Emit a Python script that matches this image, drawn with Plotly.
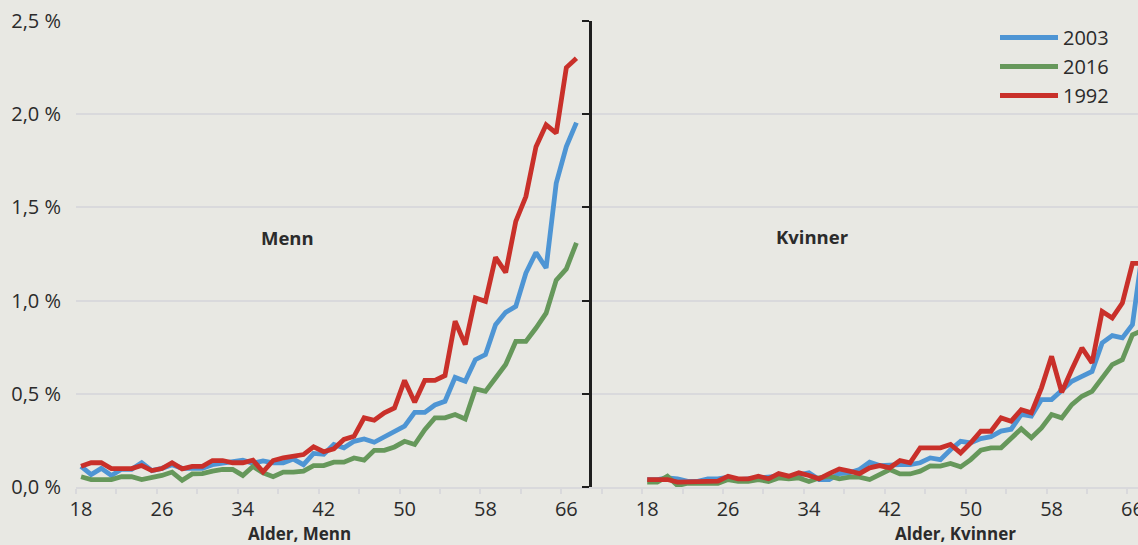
import plotly.graph_objects as go
from plotly.subplots import make_subplots

# Alder (år) for begge panelene
ages = list(range(18, 68))

# Menn: andel (%) per alder
men_2003 = [0.111, 0.067, 0.100, 0.062, 0.095, 0.095, 0.130, 0.088, 0.100, 0.120,
            0.100, 0.100, 0.100, 0.120, 0.130, 0.135, 0.144, 0.127, 0.140, 0.130,
            0.130, 0.150, 0.120, 0.180, 0.175, 0.228, 0.210, 0.245, 0.258, 0.240,
            0.270, 0.295, 0.326, 0.400, 0.400, 0.440, 0.460, 0.588, 0.567, 0.683,
            0.710, 0.871, 0.937, 0.969, 1.148, 1.258, 1.175, 1.630, 1.826, 1.955]
men_2016 = [0.055, 0.040, 0.040, 0.040, 0.055, 0.055, 0.040, 0.050, 0.062, 0.080,
            0.036, 0.070, 0.072, 0.085, 0.094, 0.094, 0.062, 0.110, 0.076, 0.055,
            0.080, 0.080, 0.085, 0.115, 0.115, 0.133, 0.133, 0.156, 0.144, 0.197,
            0.197, 0.215, 0.245, 0.228, 0.308, 0.371, 0.371, 0.389, 0.365, 0.526,
            0.513, 0.585, 0.657, 0.781, 0.781, 0.853, 0.933, 1.110, 1.170, 1.310]
men_1992 = [0.111, 0.130, 0.130, 0.099, 0.099, 0.099, 0.115, 0.088, 0.099, 0.130,
            0.097, 0.111, 0.111, 0.142, 0.142, 0.130, 0.130, 0.144, 0.081, 0.142,
            0.156, 0.165, 0.174, 0.215, 0.189, 0.205, 0.255, 0.272, 0.371, 0.358,
            0.398, 0.424, 0.572, 0.454, 0.572, 0.572, 0.598, 0.889, 0.764, 1.014,
            0.996, 1.232, 1.151, 1.425, 1.558, 1.826, 1.943, 1.898, 2.250, 2.300]

# Kvinner: andel (%) per alder
women_2003 = [0.040, 0.040, 0.049, 0.044, 0.030, 0.030, 0.044, 0.044, 0.053, 0.040,
              0.044, 0.049, 0.049, 0.058, 0.053, 0.062, 0.076, 0.040, 0.040, 0.072,
              0.076, 0.094, 0.133, 0.115, 0.120, 0.120, 0.120, 0.130, 0.156, 0.147,
              0.200, 0.245, 0.237, 0.260, 0.270, 0.300, 0.310, 0.389, 0.380, 0.469,
              0.469, 0.522, 0.567, 0.594, 0.620, 0.773, 0.812, 0.800, 0.871, 1.270]
women_2016 = [0.026, 0.026, 0.058, 0.008, 0.020, 0.020, 0.026, 0.020, 0.040, 0.030,
              0.030, 0.040, 0.030, 0.049, 0.044, 0.049, 0.030, 0.049, 0.058, 0.044,
              0.053, 0.053, 0.040, 0.067, 0.094, 0.070, 0.070, 0.085, 0.113, 0.112,
              0.126, 0.108, 0.147, 0.197, 0.210, 0.210, 0.258, 0.312, 0.264, 0.317,
              0.389, 0.371, 0.442, 0.487, 0.513, 0.585, 0.657, 0.683, 0.817, 0.840]
women_1992 = [0.040, 0.040, 0.040, 0.026, 0.026, 0.026, 0.030, 0.031, 0.058, 0.044,
              0.044, 0.058, 0.044, 0.072, 0.058, 0.076, 0.062, 0.044, 0.072, 0.097,
              0.085, 0.072, 0.103, 0.115, 0.103, 0.142, 0.130, 0.210, 0.210, 0.210,
              0.228, 0.183, 0.237, 0.299, 0.299, 0.371, 0.353, 0.415, 0.398, 0.532,
              0.701, 0.508, 0.630, 0.746, 0.666, 0.942, 0.907, 0.987, 1.200, 1.200]

age_ticks = [18, 26, 34, 42, 50, 58, 66]
y_ticks = [0, 0.5, 1.0, 1.5, 2.0, 2.5]
y_tick_text = [f"{v:.1f} %".replace(".", ",") for v in y_ticks]

series = [
    ("2003", "#4e95d4", men_2003, women_2003),
    ("2016", "#66985b", men_2016, women_2016),
    ("1992", "#c9302a", men_1992, women_1992),
]

BG = "#e8e8e3"
GRID = "#d9d9dc"
TXT = "#2b2b2b"
FONT = "Open Sans"

W, H = 1138, 545
L, R, T, B = 76, 0, 21, 58
split = (591.6 - L) / (W - L)

fig = make_subplots(rows=1, cols=2, shared_yaxes=False,
                    horizontal_spacing=0, column_widths=[split, 1 - split])

for name, color, men, women in series:
    fig.add_trace(go.Scatter(x=ages, y=men, mode="lines", name=name,
                             line=dict(color=color, width=4.8),
                             legendgroup=name, showlegend=True),
                  row=1, col=1)
    fig.add_trace(go.Scatter(x=ages, y=women, mode="lines", name=name,
                             line=dict(color=color, width=4.8),
                             legendgroup=name, showlegend=False),
                  row=1, col=2)

minor_common = dict(ticks="outside", ticklen=5, tickwidth=1.5,
                    tickcolor=GRID, showgrid=False)

xcommon = dict(tickmode="array", tickvals=age_ticks, ticks="",
               showgrid=False, showline=True, linecolor=GRID, linewidth=1.5,
               zeroline=False, tickfont=dict(size=20, color=TXT, family=FONT),
               ticklabelstandoff=3, ticklabeloverflow="allow", automargin=False)

fig.update_xaxes(range=[17.5, 68.5],
                 minor=dict(tickmode="array",
                            tickvals=[17.5 + 4 * k for k in range(13)],
                            **minor_common),
                 **xcommon, row=1, col=1)
cat_w = (W - L) * split / 51.0
right_end = 12.5 + (W - L) * (1 - split) / cat_w
fig.update_xaxes(range=[12.5, right_end],
                 minor=dict(tickmode="array",
                            tickvals=[13.5 + 4 * k for k in range(14)],
                            **minor_common),
                 **xcommon, row=1, col=2)

ycommon = dict(range=[0, 2.5], tickmode="array", tickvals=y_ticks,
               showgrid=True, gridcolor=GRID, gridwidth=1.5, zeroline=False,
               automargin=False)
fig.update_yaxes(ticktext=y_tick_text, ticks="",
                 showline=False, ticklabelstandoff=14,
                 tickfont=dict(size=20, color=TXT, family=FONT),
                 **ycommon, row=1, col=1)
fig.update_yaxes(showticklabels=False, showline=True, linecolor="#1e1e1e",
                 linewidth=2.5, ticks="outside", ticklen=7, tickwidth=2,
                 tickcolor="#1e1e1e", **ycommon, row=1, col=2)

def px_x(x):
    return (x - L) / (W - L)

def px_y(y):
    return (H - B - y) / (H - T - B)

labels = [
    ("Menn", 287, 237, 18.5),
    ("Kvinner", 812, 236, 18.5),
    ("Alder, Menn", 299, 533, 17),
    ("Alder, Kvinner", 955, 533, 17),
]
for text, x, y, size in labels:
    fig.add_annotation(text=f"<b>{text}</b>", x=px_x(x), y=px_y(y),
                       xref="paper", yref="paper", xanchor="center",
                       yanchor="middle", showarrow=False,
                       font=dict(size=size, color=TXT, family=FONT))

fig.update_layout(
    width=W, height=H,
    margin=dict(l=L, r=R, t=T, b=B, pad=0),
    paper_bgcolor=BG, plot_bgcolor=BG,
    font=dict(family=FONT, color=TXT, size=20),
    legend=dict(x=px_x(995), y=px_y(18), xanchor="left", yanchor="top",
                bgcolor="rgba(0,0,0,0)", itemwidth=58,
                font=dict(size=20, color=TXT, family=FONT),
                tracegroupgap=0),
    showlegend=True,
)

fig.write_html("out.html")
